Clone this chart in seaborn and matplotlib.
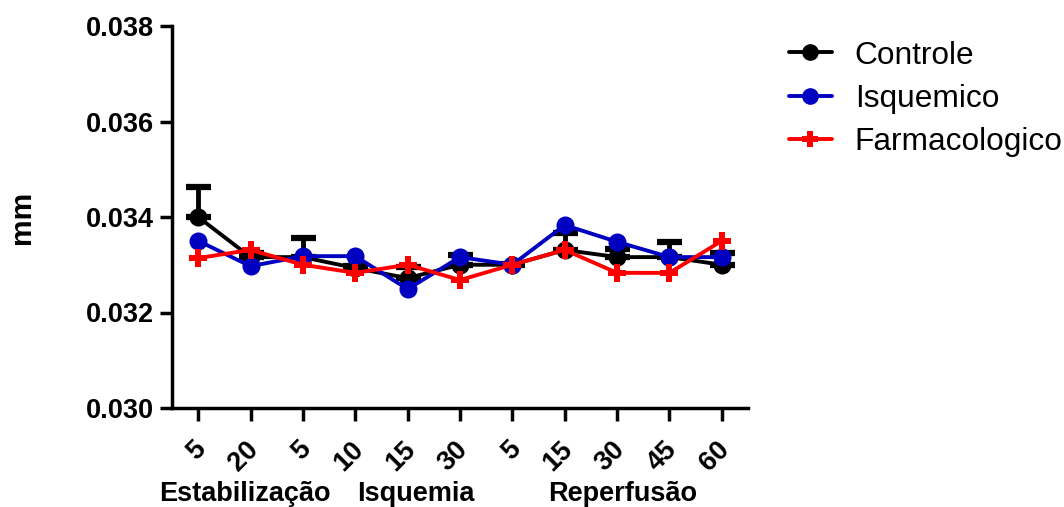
import matplotlib
matplotlib.use("Agg")
import matplotlib.pyplot as plt
import matplotlib.transforms as mtransforms
import seaborn as sns
import numpy as np
import pandas as pd
from matplotlib.lines import Line2D

tick_labels = ["5", "20", "5", "10", "15", "30", "5", "15", "30", "45", "60"]
groups = ["Estabilização", "Isquemia", "Reperfusão"]
group_centers = [0.9, 4.15, 8.1]

controle = [0.0340, 0.03316, 0.03316, 0.03293, 0.03272, 0.0330, 0.0330, 0.03331, 0.03316, 0.03316, 0.0330]
controle_err = [0.00063, 0.00008, 0.00040, 0.00005, 0.00023, 0.00020, 0.00002, 0.00035, 0.00017, 0.00032, 0.00025]
isquemico = [0.0335, 0.03297, 0.03318, 0.03318, 0.03249, 0.03316, 0.0330, 0.03383, 0.03348, 0.03316, 0.03316]
farmacologico = [0.03314, 0.03331, 0.0330, 0.03283, 0.0330, 0.03268, 0.0330, 0.03331, 0.03283, 0.03283, 0.0335]

sns.set_theme(style="ticks")
plt.rcParams['font.family'] = ['Liberation Sans', 'DejaVu Sans']
plt.rcParams['text.color'] = 'black'
plt.rcParams['axes.labelcolor'] = 'black'
plt.rcParams['xtick.color'] = 'black'
plt.rcParams['ytick.color'] = 'black'

fig = plt.figure(figsize=(10.64, 5.07), dpi=100)
ax = fig.add_axes([172/1064, 1-408/507, 576/1064, 382/507])

x = np.arange(len(tick_labels))
df = pd.DataFrame({
    "x": np.tile(x, 3),
    "y": controle + isquemico + farmacologico,
    "serie": ["Controle"]*11 + ["Isquemico"]*11 + ["Farmacologico"]*11,
})

ax.errorbar(x, controle, yerr=[np.zeros(len(x)), controle_err], fmt='none',
            ecolor='black', elinewidth=3.5, capsize=9, capthick=4.5, zorder=1)

palette = {"Controle": "#000000", "Isquemico": "#0000C0", "Farmacologico": "#FF0000"}
markers = {"Controle": "o", "Isquemico": "o", "Farmacologico": "P"}
sns.lineplot(data=df, x="x", y="y", hue="serie", style="serie", palette=palette,
             markers=markers, dashes=False, linewidth=2.8, markersize=13,
             markeredgewidth=0, ax=ax, zorder=2, legend=False)

ax.set_xlim(-0.5, 10.5)
ax.set_ylim(0.030, 0.038)
ax.set_yticks([0.030, 0.032, 0.034, 0.036, 0.038])
ax.set_yticklabels(["0.030", "0.032", "0.034", "0.036", "0.038"], fontsize=19.5, fontweight='bold')
ax.set_xticks(x)
ax.set_xticklabels(tick_labels, fontsize=19.5, fontweight='bold', rotation=45,
                   ha='right', va='center', rotation_mode='anchor')
ax.tick_params(axis='both', length=9, width=2.5, color='black', direction='out')
ax.tick_params(axis='x', pad=18)
ax.tick_params(axis='y', pad=4)
shift = mtransforms.ScaledTranslation(4/100, 0, fig.dpi_scale_trans)
for lab in ax.get_xticklabels():
    lab.set_transform(lab.get_transform() + shift)
for s in ['top', 'right']:
    ax.spines[s].set_visible(False)
for s in ['left', 'bottom']:
    ax.spines[s].set_linewidth(2.5)
    ax.spines[s].set_color('black')
ax.set_xlabel("")
ax.set_ylabel("mm", fontsize=21.5, fontweight='bold', labelpad=36)

for g, c in zip(groups, group_centers):
    ax.text(c, -0.225, g, transform=ax.get_xaxis_transform(), ha='center', va='center',
            fontsize=19.5, fontweight='bold')

handles = [Line2D([], [], color=palette[k], marker=markers[k], markersize=12,
                  markeredgewidth=0, linewidth=2.8) for k in palette]
fig.legend(handles, list(palette.keys()), loc='upper left',
           bbox_to_anchor=(760/1064, 1-12/507), frameon=False, fontsize=22.8,
           handlelength=1.37, handletextpad=0.72, labelspacing=0.42)

fig.savefig("out.png", dpi=100)
